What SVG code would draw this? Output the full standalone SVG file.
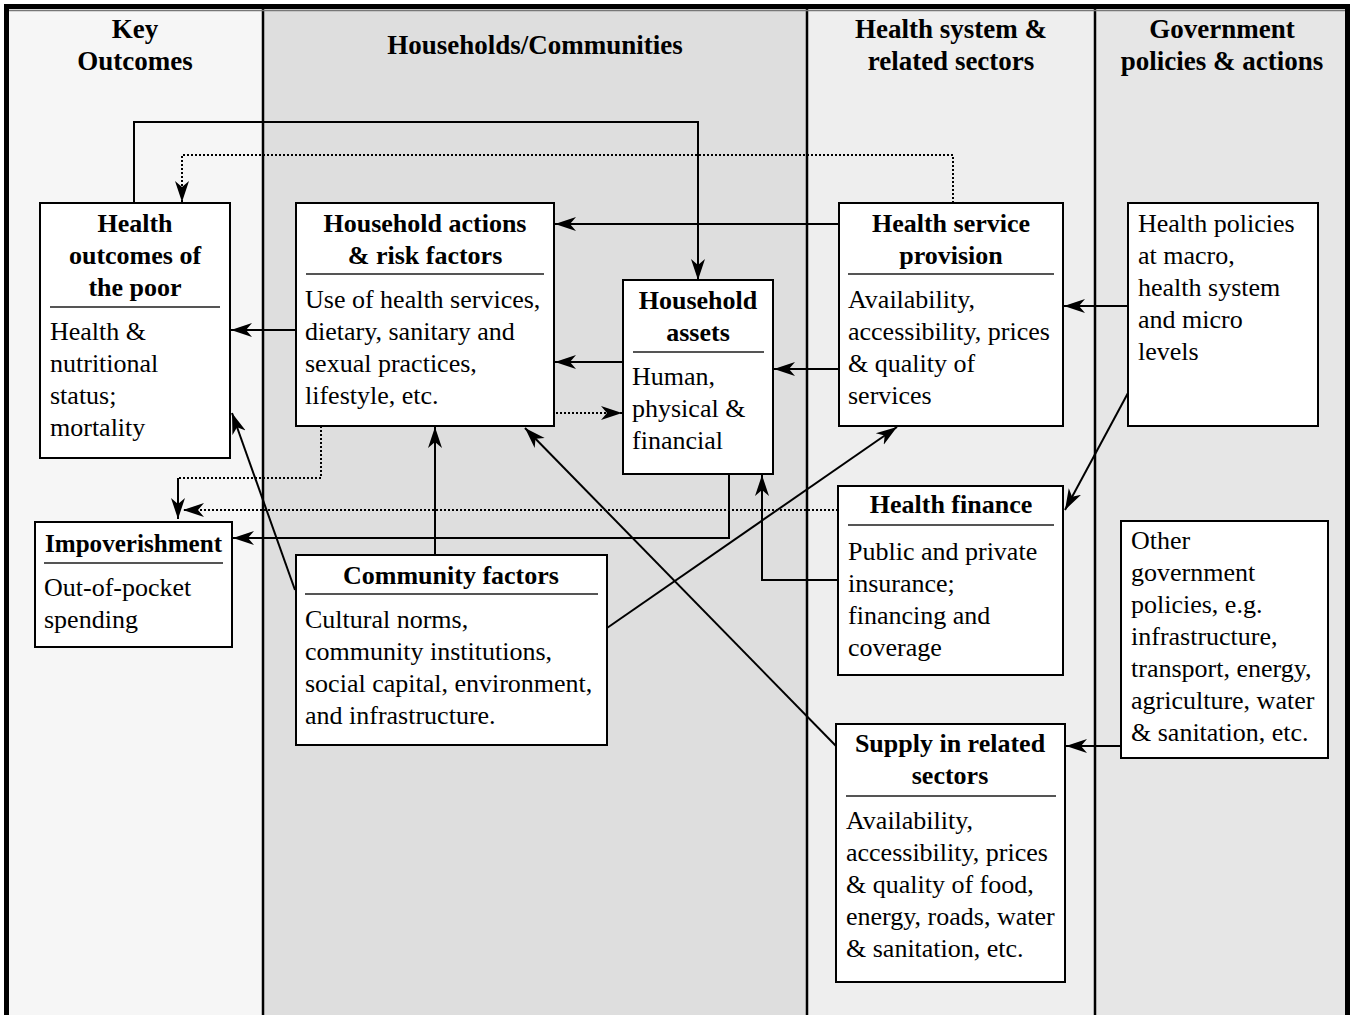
<svg xmlns="http://www.w3.org/2000/svg" width="1354" height="1015" viewBox="0 0 1354 1015">
<style>
.box{fill:#fff;stroke:#000;stroke-width:2}
.sep{stroke:#555;stroke-width:2}
.t{font-family:"Liberation Serif","Times New Roman",serif;font-size:26px;fill:#000}
.b{font-weight:bold}
.h{font-family:"Liberation Serif","Times New Roman",serif;font-size:27px;font-weight:bold;fill:#000;text-anchor:middle}
.c{text-anchor:middle}
.ln{fill:none;stroke:#000;stroke-width:2}
.dot{fill:none;stroke:#000;stroke-width:2;stroke-dasharray:2 2}
.div{stroke:#000;stroke-width:2.5}
</style>
<defs>
<marker id="ah" markerUnits="userSpaceOnUse" markerWidth="24" markerHeight="16" viewBox="0 -8 24 16" refX="21" refY="0" orient="auto">
<path d="M0,-7 L21,0 L0,7 L6,0 Z" fill="#000"/>
</marker>
</defs>
<g id="background">
<rect x="0" y="0" width="1354" height="1015" fill="#fff"/>
<rect x="8" y="8" width="255" height="1007" fill="#f6f6f6"/>
<rect x="263" y="8" width="544" height="1007" fill="#dedede"/>
<rect x="807" y="8" width="288" height="1007" fill="#eeeeee"/>
<rect x="1095" y="8" width="252" height="1007" fill="#e6e6e6"/>
<line class="div" x1="263" y1="8" x2="263" y2="1015"/>
<line class="div" x1="807" y1="8" x2="807" y2="1015"/>
<line class="div" x1="1095" y1="8" x2="1095" y2="1015"/>
<path d="M6.5,1015 V6.5 H1347.5 V1015" fill="none" stroke="#000" stroke-width="5"/>
<line x1="9" y1="10.5" x2="1345" y2="10.5" stroke="#777" stroke-width="1.5"/>
</g>
<g id="headers">
<text class="h" x="135" y="38">Key</text>
<text class="h" x="135" y="70">Outcomes</text>
<text class="h" x="535" y="54">Households/Communities</text>
<text class="h" x="951" y="38">Health system &amp;</text>
<text class="h" x="951" y="70">related sectors</text>
<text class="h" x="1222" y="38">Government</text>
<text class="h" x="1222" y="70">policies &amp; actions</text>
</g>
<g id="connectors">
<path class="ln" d="M134,203 V122 H698 V280" marker-end="url(#ah)"/>
<path class="dot" d="M953,203 V155 H182 V202" marker-end="url(#ah)"/>
<path class="ln" d="M839,224 H555" marker-end="url(#ah)"/>
<path class="ln" d="M296,330 H231" marker-end="url(#ah)"/>
<path class="ln" d="M623,362 H555" marker-end="url(#ah)"/>
<path class="dot" d="M556,413 H622" marker-end="url(#ah)"/>
<path class="ln" d="M839,369 H774" marker-end="url(#ah)"/>
<path class="ln" d="M1128,306 H1064" marker-end="url(#ah)"/>
<path class="ln" d="M1128,393 L1065,510" marker-end="url(#ah)"/>
<path class="dot" d="M321,426 V478 H178"/>
<path class="ln" d="M178,478 V519" marker-end="url(#ah)"/>
<path class="dot" d="M838,510 H183" marker-end="url(#ah)"/>
<path class="ln" d="M729,474 V538 H233" marker-end="url(#ah)"/>
<path class="ln" d="M838,580 H762 V475" marker-end="url(#ah)"/>
<path class="ln" d="M435,555 V427" marker-end="url(#ah)"/>
<path class="ln" d="M295,590 L232,413" marker-end="url(#ah)"/>
<path class="ln" d="M607,628 L897,427" marker-end="url(#ah)"/>
<path class="ln" d="M836,746 L525,428" marker-end="url(#ah)"/>
<path class="ln" d="M1121,746 H1066" marker-end="url(#ah)"/>
</g>
<g id="health-outcomes">
<rect class="box" x="40" y="203" width="190" height="255"/>
<text class="t b c" x="135" y="232">Health</text>
<text class="t b c" x="135" y="264">outcomes of</text>
<text class="t b c" x="135" y="296">the poor</text>
<line class="sep" x1="50" y1="307" x2="220" y2="307"/>
<text class="t" x="50" y="340">Health &amp;</text>
<text class="t" x="50" y="372">nutritional</text>
<text class="t" x="50" y="404">status;</text>
<text class="t" x="50" y="436">mortality</text>
</g>
<g id="household-actions">
<rect class="box" x="296" y="203" width="258" height="223"/>
<text class="t b c" x="425" y="232">Household actions</text>
<text class="t b c" x="425" y="264">&amp; risk factors</text>
<line class="sep" x1="306" y1="274" x2="544" y2="274"/>
<text class="t" x="305" y="308">Use of health services,</text>
<text class="t" x="305" y="340">dietary, sanitary and</text>
<text class="t" x="305" y="372">sexual practices,</text>
<text class="t" x="305" y="404">lifestyle, etc.</text>
</g>
<g id="household-assets">
<rect class="box" x="623" y="280" width="150" height="194"/>
<text class="t b c" x="698" y="309">Household</text>
<text class="t b c" x="698" y="341">assets</text>
<line class="sep" x1="633" y1="352" x2="764" y2="352"/>
<text class="t" x="632" y="385">Human,</text>
<text class="t" x="632" y="417">physical &amp;</text>
<text class="t" x="632" y="449">financial</text>
</g>
<g id="health-service-provision">
<rect class="box" x="839" y="203" width="224" height="223"/>
<text class="t b c" x="951" y="232">Health service</text>
<text class="t b c" x="951" y="264">provision</text>
<line class="sep" x1="848" y1="274" x2="1054" y2="274"/>
<text class="t" x="848" y="308">Availability,</text>
<text class="t" x="848" y="340">accessibility, prices</text>
<text class="t" x="848" y="372">&amp; quality of</text>
<text class="t" x="848" y="404">services</text>
</g>
<g id="health-policies">
<rect class="box" x="1128" y="203" width="190" height="223"/>
<text class="t" x="1138" y="232">Health policies</text>
<text class="t" x="1138" y="264">at macro,</text>
<text class="t" x="1138" y="296">health system</text>
<text class="t" x="1138" y="328">and micro</text>
<text class="t" x="1138" y="360">levels</text>
</g>
<g id="health-finance">
<rect class="box" x="838" y="486" width="225" height="189"/>
<text class="t b c" x="951" y="513">Health finance</text>
<line class="sep" x1="848" y1="525" x2="1054" y2="525"/>
<text class="t" x="848" y="560">Public and private</text>
<text class="t" x="848" y="592">insurance;</text>
<text class="t" x="848" y="624">financing and</text>
<text class="t" x="848" y="656">coverage</text>
</g>
<g id="other-government-policies">
<rect class="box" x="1121" y="521" width="207" height="237"/>
<text class="t" x="1131" y="549">Other</text>
<text class="t" x="1131" y="581">government</text>
<text class="t" x="1131" y="613">policies, e.g.</text>
<text class="t" x="1131" y="645">infrastructure,</text>
<text class="t" x="1131" y="677">transport, energy,</text>
<text class="t" x="1131" y="709">agriculture, water</text>
<text class="t" x="1131" y="741">&amp; sanitation, etc.</text>
</g>
<g id="impoverishment">
<rect class="box" x="35" y="522" width="197" height="125"/>
<text class="t b" x="45" y="552" textLength="177" lengthAdjust="spacingAndGlyphs">Impoverishment</text>
<line class="sep" x1="44" y1="563" x2="223" y2="563"/>
<text class="t" x="44" y="596">Out-of-pocket</text>
<text class="t" x="44" y="628">spending</text>
</g>
<g id="community-factors">
<rect class="box" x="296" y="555" width="311" height="190"/>
<text class="t b c" x="451" y="584">Community factors</text>
<line class="sep" x1="305" y1="594" x2="598" y2="594"/>
<text class="t" x="305" y="628">Cultural norms,</text>
<text class="t" x="305" y="660">community institutions,</text>
<text class="t" x="305" y="692">social capital, environment,</text>
<text class="t" x="305" y="724">and infrastructure.</text>
</g>
<g id="supply-related-sectors">
<rect class="box" x="836" y="724" width="229" height="258"/>
<text class="t b c" x="950" y="752">Supply in related</text>
<text class="t b c" x="950" y="784">sectors</text>
<line class="sep" x1="846" y1="796" x2="1056" y2="796"/>
<text class="t" x="846" y="829">Availability,</text>
<text class="t" x="846" y="861">accessibility, prices</text>
<text class="t" x="846" y="893">&amp; quality of food,</text>
<text class="t" x="846" y="925">energy, roads, water</text>
<text class="t" x="846" y="957">&amp; sanitation, etc.</text>
</g>
</svg>
